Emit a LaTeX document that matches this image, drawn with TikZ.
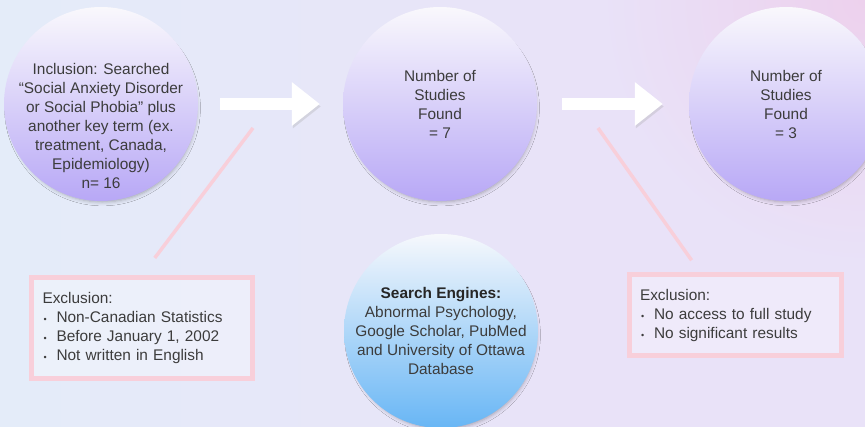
\documentclass[tikz,border=0pt]{standalone}
\usepackage{fontspec}
\setmainfont{Liberation Sans}
\usetikzlibrary{arrows.meta, positioning, shadows.blur, calc}

\definecolor{bgblue}{RGB}{228,236,249}
\definecolor{bglav}{RGB}{233,226,248}
\definecolor{bgpink}{RGB}{237,209,237}
\definecolor{circtop}{RGB}{249,248,252}
\definecolor{circbot}{RGB}{184,168,246}
\definecolor{bluetop}{RGB}{246,248,252}
\definecolor{bluebot}{RGB}{104,182,245}
\definecolor{rosy}{RGB}{248,207,218}
\definecolor{inktext}{RGB}{60,60,60}

% small bullet for the exclusion lists
\newcommand{\bul}{\makebox[14pt][l]{\hspace{1pt}\fontsize{9}{9}\selectfont\textbullet}}

\tikzset{
  bodytext/.style={font=\fontsize{15.4}{19}\selectfont, text=inktext},
  flowcirc/.style={circle, minimum size=194pt, inner sep=0pt,
    shading=axis, top color=circtop, bottom color=circbot,
    blur shadow={shadow xshift=1.5pt, shadow yshift=-4pt, shadow scale=0.97,
      shadow blur radius=4pt, shadow opacity=30}},
  enginecirc/.style={flowcirc, top color=bluetop, bottom color=bluebot},
  circtext/.style={bodytext, align=center, inner sep=0pt},
  exclbox/.style={bodytext, draw=rosy, line width=5pt, fill=white,
    fill opacity=0.3, text opacity=1, align=left, inner sep=0pt},
  flowarrow/.style={draw=white, line width=12pt,
    -{Triangle[width=42pt, length=28pt]},
    preaction={draw=black!35, opacity=0.3,
      transform canvas={shift={(1pt,-2.5pt)}}}},
  leader/.style={draw=rosy, line width=3.5pt},
}

\begin{document}
\begin{tikzpicture}[x=1pt, y=-1pt]
  \useasboundingbox (0,0) rectangle (865,427);
  \clip (0,0) rectangle (865,427);

  % background wash
  \fill[bglav] (0,0) rectangle (865,427);
  \fill[left color=bgblue, right color=bglav] (0,0) rectangle (600,427);
  \shade[inner color=bgpink, outer color=bglav] (600,-265) rectangle (1130,265);

  % flow circles
  \node[flowcirc] (incl) at (101,104) {};
  \node[circtext] (incl-text) at ([yshift=-22pt]incl.center)
    {Inclusion: Searched\\
     “Social Anxiety Disorder\\
     or Social Phobia” plus\\
     another key term (ex.\\
     treatment, Canada,\\
     Epidemiology)\\
     n= 16};
  \node[flowcirc, circtext] (found7) at (440,104)
    {Number of\\ Studies\\ Found\\ = 7};
  \node[flowcirc, circtext] (found3) at (786,104)
    {Number of\\ Studies\\ Found\\ = 3};
  \node[enginecirc, circtext] (engines) at (441,331)
    {\textbf{\color{black!85}Search Engines:}\\
     Abnormal Psychology,\\
     Google Scholar, PubMed\\
     and University of Ottawa\\
     Database};

  % arrows between the steps
  \draw[flowarrow, shorten <=22pt, shorten >=23pt] (incl) -- (found7);
  \draw[flowarrow, shorten <=25pt, shorten >=26pt] (found7) -- (found3);

  % exclusion boxes
  \node[exclbox, minimum width=221pt, minimum height=101pt, text width=198pt]
    (excl1) at (141.5,328.5)
    {Exclusion:\\
     \bul Non-Canadian Statistics\\
     \bul Before January 1, 2002\\
     \bul Not written in English};
  \node[exclbox, minimum width=212pt, minimum height=81pt, text width=190pt]
    (excl2) at (735,315.5)
    {Exclusion:\\
     \bul No access to full study\\
     \bul No significant results};

  % leader lines
  \coordinate (tick1) at (253,128);
  \coordinate (tick2) at (598,128);
  \draw[leader, shorten >=22pt] (tick1) -- (excl1.north);
  \draw[leader, shorten >=15pt] (tick2) -- ($(excl2.north west)!0.34!(excl2.north east)$);
\end{tikzpicture}
\end{document}
